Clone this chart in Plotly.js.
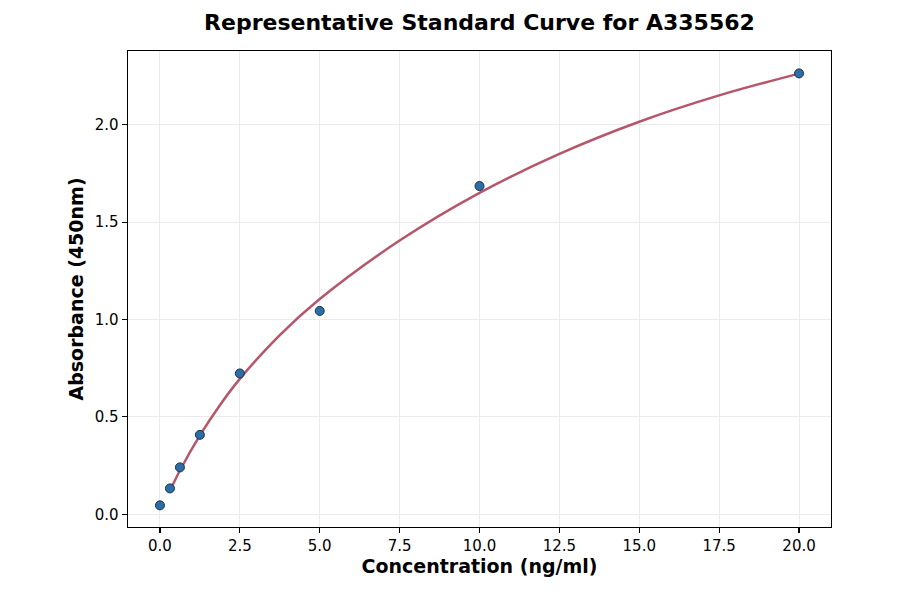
<!DOCTYPE html>
<html>
<head>
<meta charset="utf-8">
<script src="https://cdn.plot.ly/plotly-3.0.1.min.js"></script>
<style>
  body { margin: 0; background: #fff; }
  #chart { width: 900px; height: 594px; }
</style>
</head>
<body>
<div id="chart"></div>
<script>
// measured standards
var conc = [0, 0.3125, 0.625, 1.25, 2.5, 5, 10, 20];
var absorb = [0.046, 0.133, 0.241, 0.408, 0.723, 1.044, 1.685, 2.263];

// fitted curve
var fitConc = [0.3125, 0.625, 1.25, 1.875, 2.5, 3.75, 5, 7.5, 10, 12.5, 15, 17.5, 20];
var fitAbs = [0.12, 0.225, 0.405, 0.56, 0.695, 0.92, 1.105, 1.405, 1.65, 1.85, 2.015, 2.15, 2.262];

var xTicks = [0, 2.5, 5, 7.5, 10, 12.5, 15, 17.5, 20];
var yTicks = [0, 0.5, 1, 1.5, 2];

var curve = {
    x: fitConc,
    y: fitAbs,
    type: "scatter",
    mode: "lines",
    line: {color: "#b5566a", width: 2.5, shape: "spline", smoothing: 1},
    hoverinfo: "skip"
};

var points = {
    x: conc,
    y: absorb,
    type: "scatter",
    mode: "markers",
    marker: {color: "#2b6ea8", size: 9, line: {color: "#1b2f48", width: 1}}
};

var axisBase = {
    showline: true,
    linecolor: "#000",
    linewidth: 1.4,
    mirror: true,
    ticks: "outside",
    ticklen: 5,
    tickwidth: 1.1,
    tickcolor: "#000",
    showgrid: true,
    gridcolor: "#ebebeb",
    gridwidth: 1,
    zeroline: false,
    tickfont: {family: "DejaVu Sans", size: 15, color: "#000"}
};

var layout = {
    width: 900,
    height: 594,
    margin: {l: 128, r: 69, t: 51, b: 67},
    paper_bgcolor: "#fff",
    plot_bgcolor: "#fff",
    showlegend: false,
    title: {
        text: "<b>Representative Standard Curve for A335562</b>",
        font: {family: "DejaVu Sans", size: 22, color: "#000"},
        x: 0.5327, xanchor: "center",
        y: 0.962, yanchor: "middle"
    },
    xaxis: Object.assign({}, axisBase, {
        range: [-1, 21],
        tickvals: xTicks,
        ticktext: xTicks.map(v => v.toFixed(1)),
        title: {text: "<b>Concentration (ng/ml)</b>", font: {family: "DejaVu Sans", size: 19, color: "#000"}, standoff: 5}
    }),
    yaxis: Object.assign({}, axisBase, {
        range: [-0.065, 2.378],
        tickvals: yTicks,
        ticktext: yTicks.map(v => v.toFixed(1)),
        title: {text: "<b>Absorbance (450nm)</b>", font: {family: "DejaVu Sans", size: 19, color: "#000"}, standoff: 6}
    })
};

Plotly.newPlot("chart", [curve, points], layout, {displayModeBar: false, staticPlot: true});
</script>
</body>
</html>
